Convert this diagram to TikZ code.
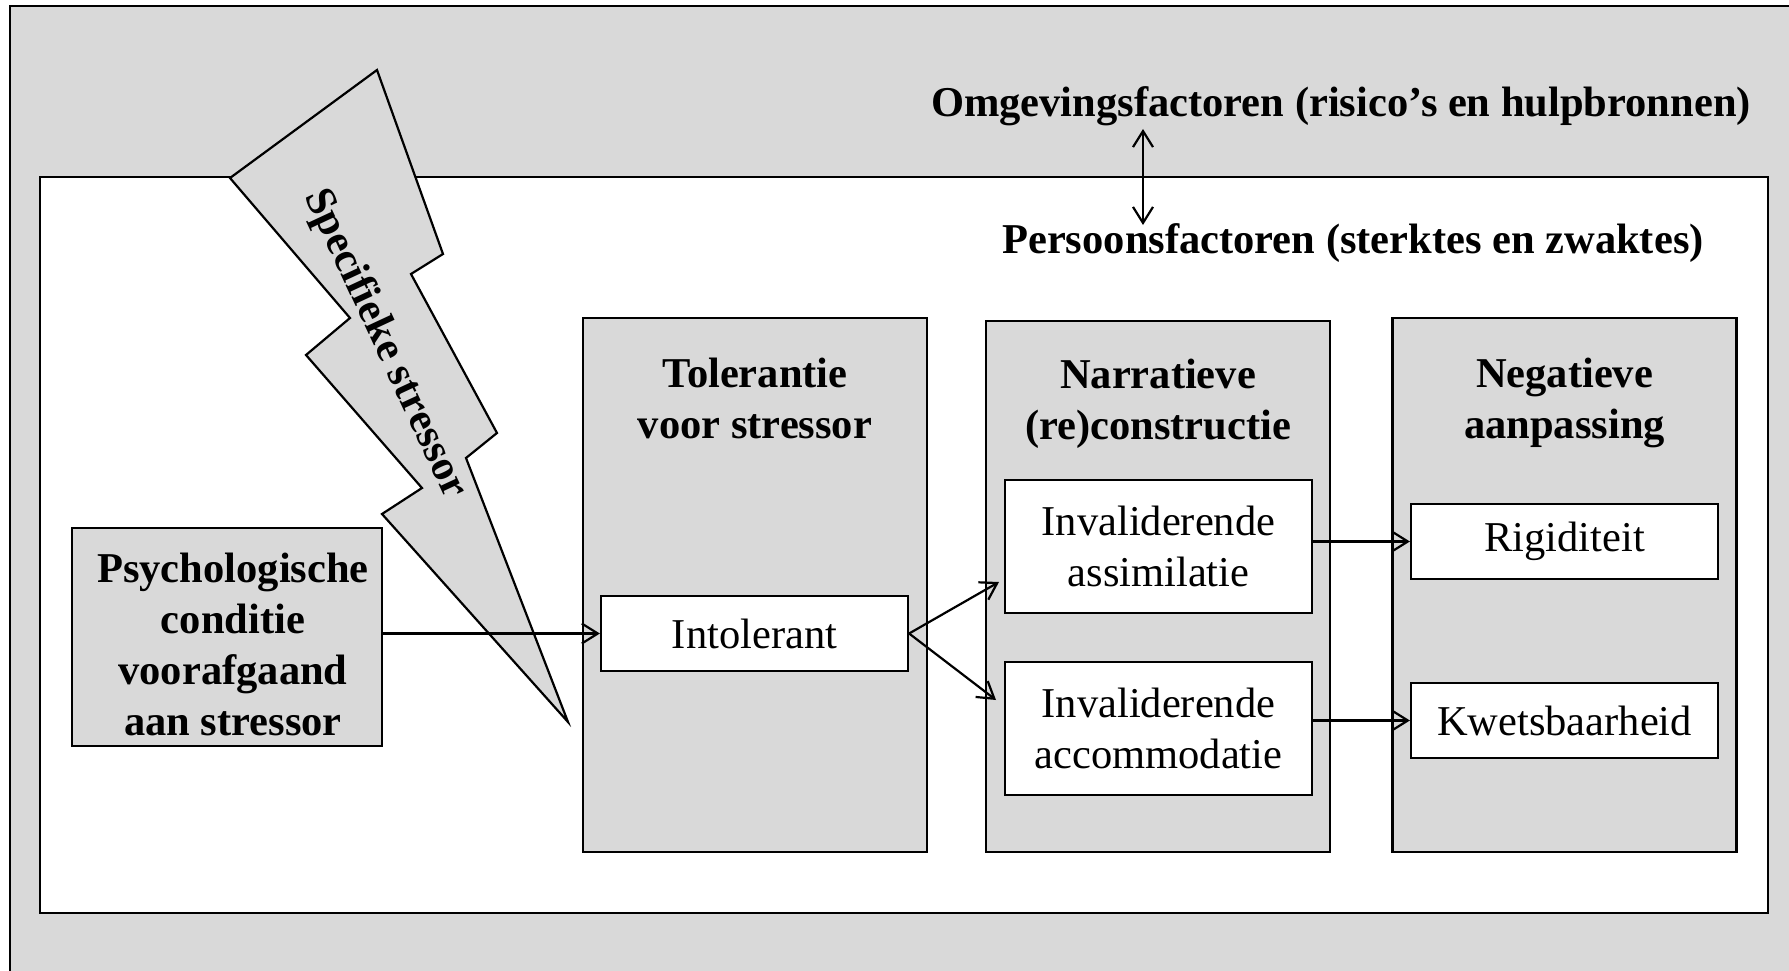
\documentclass[tikz,border=0pt]{standalone}
\usepackage{fontspec}
\setmainfont{Liberation Serif}
\usetikzlibrary{arrows.meta}
\definecolor{panelgray}{RGB}{217,217,217}
\begin{document}
\begin{tikzpicture}[x=1pt,y=-1pt,
  txt/.style={font=\fontsize{42.5}{51}\selectfont},
  bold/.style={font=\fontsize{42.5}{51}\selectfont\bfseries},
  frame/.style={draw=black,line width=2.2pt},
  column/.style={frame,fill=panelgray,minimum width=344pt,minimum height=534pt,inner sep=0pt},
  whitebox/.style={frame,fill=white,txt,align=center,inner sep=0pt},
  coltitle/.style={bold,align=center,inner sep=0pt,anchor=north},
  arr/.style={line width=2.2pt,-{Straight Barb[length=16pt,width=20pt]}},
  dblarr/.style={line width=2.2pt,{Straight Barb[length=16pt,width=20pt]}-{Straight Barb[length=16pt,width=20pt]}}
]
\useasboundingbox (0,0) rectangle (1789,971);
% surroundings
\fill[white] (0,0) rectangle (1789,971);
\fill[panelgray] (10,6) rectangle (1789,971);
\draw[line width=2.2pt] (10,971) -- (10,6) -- (1789,6);

% person area
\node[frame,fill=white,minimum width=1728pt,minimum height=736pt,inner sep=0pt] (person) at (904,545) {};

% lightning bolt
\draw[frame,fill=panelgray,line join=miter]
  (230,178) -- (377,70) -- (443,254) -- (411,274) -- (497,433) -- (466,458)
  -- (568,722) -- (382,514) -- (422,488) -- (306,355) -- (350,318) -- cycle;
\node[bold,rotate=-65] (stressor) at (385,344) {Specifieke stressor};

% headings
\node[bold,anchor=base] (omg) at (1341,117) {Omgevingsfactoren (risico’s en hulpbronnen)};
\node[bold,anchor=base] (pers) at (1353,253) {Persoonsfactoren (sterktes en zwaktes)};
\coordinate (omgpt) at (1143,129);
\coordinate (perspt) at (1143,225);
\draw[dblarr] (omgpt) -- (perspt);

% prior condition
\node[frame,fill=panelgray,inner sep=0pt,minimum width=310pt,minimum height=218pt] (psych) at (227,637) {};
\node[bold,align=center,inner sep=0pt] (psychtext) at ([xshift=6pt,yshift=-7pt]psych.center)
  {Psychologische\\conditie\\voorafgaand\\aan stressor};

% columns
\node[column] (tol) at (755,585) {};
\node[column,minimum height=531pt] (nar) at (1158,586.5) {};
\node[column] (neg) at (1564.5,585) {};

\node[coltitle] (toltitle) at ([yshift=-41pt]tol.north) {Tolerantie\\voor stressor};
\node[coltitle] (nartitle) at ([yshift=-39pt]nar.north) {Narratieve\\(re)constructie};
\node[coltitle] (negtitle) at ([yshift=-41pt]neg.north) {Negatieve\\aanpassing};

% inner boxes
\node[whitebox,minimum width=307pt,minimum height=75pt] (intol) at (754.5,633.5) {Intolerant};
\node[whitebox,minimum width=307pt,minimum height=133pt] (assim) at (1158.5,546.5) {Invaliderende\\assimilatie};
\node[whitebox,minimum width=307pt,minimum height=133pt] (accom) at (1158.5,728.5) {Invaliderende\\accommodatie};
\node[whitebox,minimum width=307pt,minimum height=75pt] (rigid) at (1564.5,541.5) {Rigiditeit};
\node[whitebox,minimum width=307pt,minimum height=75pt] (kwets) at (1564.5,720.5) {Kwetsbaarheid};

% connectors
\draw[arr] (psych.east |- intol.west) -- (intol.west);
\coordinate (assimin) at (999,582);
\coordinate (accomin) at (996,700);
\draw[arr] (intol.east) -- (assimin);
\draw[arr] (intol.east) -- (accomin);
\draw[arr] (assim.east |- rigid.west) -- (rigid.west);
\draw[arr] (accom.east |- kwets.west) -- (kwets.west);
\end{tikzpicture}
\end{document}
